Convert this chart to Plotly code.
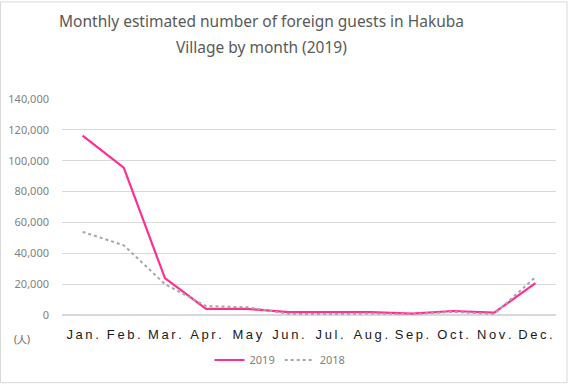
import plotly.graph_objects as go

months = ["Jan.", "Feb.", "Mar.", "Apr.", "May", "Jun.", "Jul.", "Aug.", "Sep.", "Oct.", "Nov.", "Dec."]
guests_2019 = [116300, 95500, 23900, 4000, 4000, 1800, 1800, 1900, 900, 2600, 1500, 20700]
guests_2018 = [53900, 45200, 20000, 5800, 5000, 800, 500, 1000, 500, 2000, 600, 24500]
y_ticks = [0, 20000, 40000, 60000, 80000, 100000, 120000, 140000]
y_tick_labels = ["0", "20,000", "40,000", "60,000", "80,000", "100,000", "120,000", "140,000"]
title_line1 = "Monthly estimated number of foreign guests in Hakuba"
title_line2 = "Village by month (2019)"

# letter-spaced display labels for the month axis
spaced = ["\u2009".join(list(m)) for m in months]

fig = go.Figure()
fig.add_trace(go.Scatter(x=months, y=guests_2019, mode="lines", name="2019",
                         line=dict(color="#FF2E93", width=2.2)))
fig.add_trace(go.Scatter(x=months, y=guests_2018, mode="lines", name="2018",
                         line=dict(color="#A6A6A6", width=2, dash="dot")))

title_font = dict(family="Noto Sans, DejaVu Sans, sans-serif", size=15.5, color="#595959")

fig.update_layout(
    width=568, height=385,
    margin=dict(l=62, r=12, t=99, b=69),
    paper_bgcolor="white", plot_bgcolor="white",
    font=dict(family="Noto Sans, DejaVu Sans, sans-serif"),
    title=dict(text=title_line1, x=261.5/568, xanchor="center", xref="container", yref="container",
               y=1 - 22/385, yanchor="middle", font=title_font),
    showlegend=True,
    legend=dict(orientation="h", x=(280 - 62)/494, xanchor="center", y=-44/217, yanchor="middle",
                font=dict(size=11, color="#808080"), itemwidth=30, tracegroupgap=0),
    xaxis=dict(showgrid=False, showline=False, ticks="", automargin=False,
               range=[-0.5, 11.5], tickvals=months, ticktext=spaced,
               tickfont=dict(family="Liberation Sans, Arial, sans-serif", size=13, color="#1a1a1a"),
               ticklabelstandoff=10),
    yaxis=dict(range=[0, 140000], tickvals=y_ticks, ticktext=y_tick_labels, automargin=False,
               showgrid=True, gridcolor="#D9D9D9", gridwidth=1, zeroline=True, zerolinecolor="#D9D9D9",
               showline=False, ticks="", tickfont=dict(size=11, color="#7F7F7F"), ticklabelstandoff=12),
    shapes=[dict(type="rect", xref="paper", yref="paper",
                 x0=-61.5/494, x1=1+11/494, y0=-68/217, y1=1+97.5/217,
                 line=dict(color="#D9D9D9", width=1), fillcolor="rgba(0,0,0,0)")],
    annotations=[
        dict(text=title_line2, xref="paper", yref="paper", x=(261.5 - 62)/494, y=1 + (99 - 47)/217,
             showarrow=False, xanchor="center", yanchor="middle", font=title_font),
        dict(text="(人)", xref="paper", yref="paper", x=-40/494, y=-24/217,
             showarrow=False, xanchor="center", yanchor="middle",
             font=dict(size=10, color="#595959")),
    ],
)

fig.write_html("out.html", config={"displayModeBar": False},
               post_script="document.body.style.margin='0';document.body.style.overflow='hidden';")
